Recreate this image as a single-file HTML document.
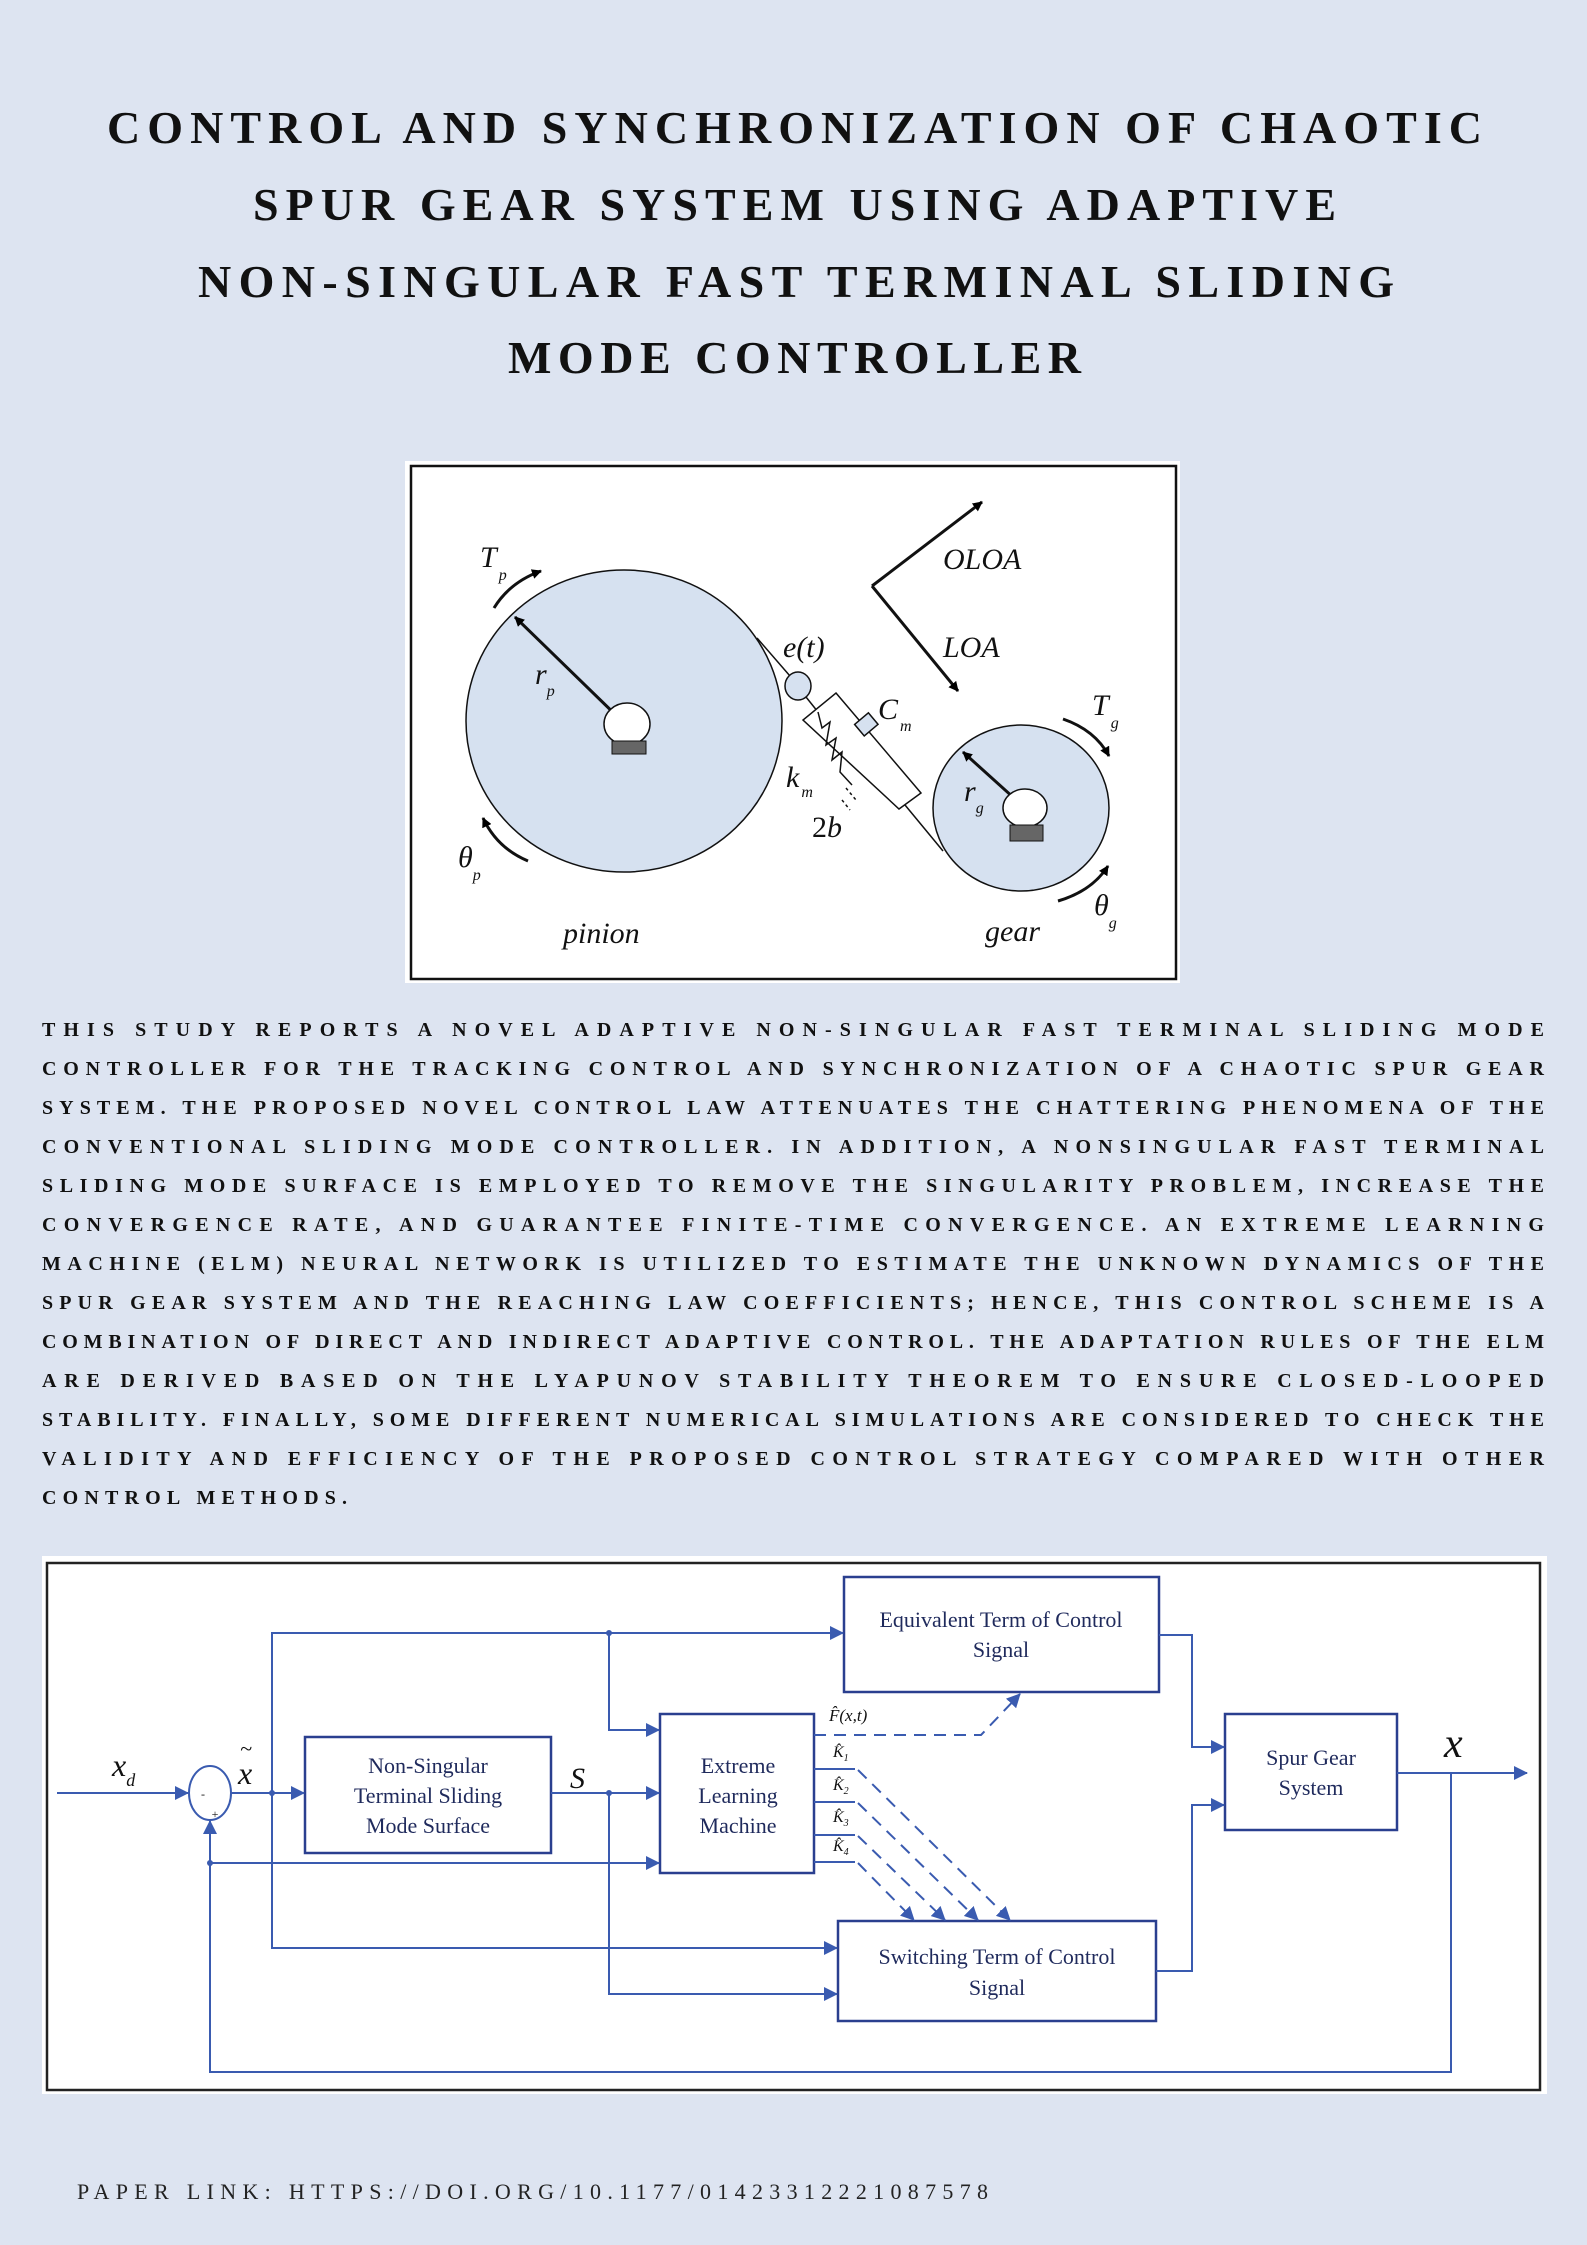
<!DOCTYPE html>
<html><head><meta charset="utf-8"><style>
html,body{margin:0;padding:0;background:#dde4f1;}
svg{display:block;}
</style></head><body>
<svg width="1587" height="2245" viewBox="0 0 1587 2245" xmlns="http://www.w3.org/2000/svg">
<defs>
<marker id="ab" markerWidth="10" markerHeight="10" refX="9" refY="5" orient="auto" markerUnits="userSpaceOnUse"><path d="M0,0 L10,5 L0,10 z" fill="#000"/></marker>
<marker id="bb" markerWidth="14" markerHeight="14" refX="13" refY="7" orient="auto" markerUnits="userSpaceOnUse"><path d="M0,0 L14,7 L0,14 z" fill="#3a5bb0"/></marker>
</defs>
<rect width="1587" height="2245" fill="#dde4f1"/>
<!-- Title -->
<g font-family="Liberation Serif, serif" font-weight="bold" font-size="46" fill="#111">
<text x="107" y="143" textLength="1375" lengthAdjust="spacing">CONTROL AND SYNCHRONIZATION OF CHAOTIC</text>
<text x="253" y="220" textLength="1083" lengthAdjust="spacing">SPUR GEAR SYSTEM USING ADAPTIVE</text>
<text x="198" y="297" textLength="1196" lengthAdjust="spacing">NON-SINGULAR FAST TERMINAL SLIDING</text>
<text x="508" y="373" textLength="573" lengthAdjust="spacing">MODE CONTROLLER</text>
</g>
<!-- Gear figure -->
<rect x="405" y="461" width="775" height="522" fill="#fff"/>
<rect x="411" y="466" width="765" height="513" fill="#fff" stroke="#111" stroke-width="2.5"/>
<g stroke="#111" stroke-width="1.5" fill="none">
<ellipse cx="624" cy="721" rx="158" ry="151" fill="#d6e1f0"/>
<ellipse cx="1021" cy="808" rx="88" ry="83" fill="#d6e1f0"/>
<line x1="757" y1="638" x2="790" y2="676"/>
<ellipse cx="798" cy="686" rx="13" ry="14" fill="#d6e1f0"/>
<line x1="806" y1="697" x2="818" y2="712"/>
<polygon points="836,693 921,793 899,809 803,720" fill="#fff"/>
<polyline points="818,712 822,728 830,722 826,745 836,738 832,760 842,752 840,772 852,785"/>
<rect x="857" y="717" width="18" height="15" fill="#d6e1f0" transform="rotate(-40 866 724)"/>
<line x1="905" y1="805" x2="943" y2="851"/>
<path d="M846,788 l10,12 M842,800 l8,10" stroke-dasharray="3,3"/>
<line x1="624" y1="723" x2="515" y2="617" stroke-width="3" marker-end="url(#ab)"/>
<line x1="1025" y1="808" x2="963" y2="752" stroke-width="3" marker-end="url(#ab)"/>
<line x1="872" y1="586" x2="982" y2="502" stroke-width="3" marker-end="url(#ab)"/>
<line x1="872" y1="586" x2="958" y2="691" stroke-width="3" marker-end="url(#ab)"/>
<path d="M494,608 Q510,582 541,571" stroke-width="3" marker-end="url(#ab)"/>
<path d="M1063,719 Q1095,730 1109,756" stroke-width="3" marker-end="url(#ab)"/>
<path d="M528,861 Q497,848 483,818" stroke-width="3" marker-end="url(#ab)"/>
<path d="M1058,901 Q1092,891 1108,866" stroke-width="3" marker-end="url(#ab)"/>
</g>
<ellipse cx="627" cy="724" rx="23" ry="21" fill="#fff" stroke="#111" stroke-width="1.5"/>
<rect x="612" y="741" width="34" height="13" fill="#666" stroke="#111"/>
<ellipse cx="1025" cy="808" rx="22" ry="19" fill="#fff" stroke="#111" stroke-width="1.5"/>
<rect x="1010" y="825" width="33" height="16" fill="#666" stroke="#111"/>
<g font-family="Liberation Serif, serif" font-style="italic" fill="#111" font-size="30">
<text x="783" y="657">e(t)</text>
<text x="878" y="719">C<tspan font-size="16" dx="2" dy="12">m</tspan></text>
<text x="786" y="787">k<tspan font-size="16" dx="2" dy="10">m</tspan></text>
<text x="812" y="837" font-style="normal">2<tspan font-style="italic">b</tspan></text>
<text x="535" y="684">r<tspan font-size="16" dy="12">p</tspan></text>
<text x="964" y="801">r<tspan font-size="16" dy="12">g</tspan></text>
<text x="480" y="567">T<tspan font-size="16" dx="2" dy="13">p</tspan></text>
<text x="1092" y="715">T<tspan font-size="16" dx="2" dy="13">g</tspan></text>
<text x="458" y="867">θ<tspan font-size="16" dy="13">p</tspan></text>
<text x="1094" y="915">θ<tspan font-size="16" dy="13">g</tspan></text>
<text x="943" y="569">OLOA</text>
<text x="943" y="657">LOA</text>
<text x="563" y="943">pinion</text>
<text x="985" y="941">gear</text>
</g>
<!-- Abstract -->
<g font-family="Liberation Serif, serif" font-weight="bold" font-size="20" fill="#111">
<text x="42" y="1036" textLength="1502" lengthAdjust="spacing">THIS STUDY REPORTS A NOVEL ADAPTIVE NON-SINGULAR FAST TERMINAL SLIDING MODE</text>
<text x="42" y="1075" textLength="1502" lengthAdjust="spacing">CONTROLLER FOR THE TRACKING CONTROL AND SYNCHRONIZATION OF A CHAOTIC SPUR GEAR</text>
<text x="42" y="1114" textLength="1502" lengthAdjust="spacing">SYSTEM. THE PROPOSED NOVEL CONTROL LAW ATTENUATES THE CHATTERING PHENOMENA OF THE</text>
<text x="42" y="1153" textLength="1502" lengthAdjust="spacing">CONVENTIONAL SLIDING MODE CONTROLLER. IN ADDITION, A NONSINGULAR FAST TERMINAL</text>
<text x="42" y="1192" textLength="1502" lengthAdjust="spacing">SLIDING MODE SURFACE IS EMPLOYED TO REMOVE THE SINGULARITY PROBLEM, INCREASE THE</text>
<text x="42" y="1231" textLength="1502" lengthAdjust="spacing">CONVERGENCE RATE, AND GUARANTEE FINITE-TIME CONVERGENCE. AN EXTREME LEARNING</text>
<text x="42" y="1270" textLength="1502" lengthAdjust="spacing">MACHINE (ELM) NEURAL NETWORK IS UTILIZED TO ESTIMATE THE UNKNOWN DYNAMICS OF THE</text>
<text x="42" y="1309" textLength="1502" lengthAdjust="spacing">SPUR GEAR SYSTEM AND THE REACHING LAW COEFFICIENTS; HENCE, THIS CONTROL SCHEME IS A</text>
<text x="42" y="1348" textLength="1502" lengthAdjust="spacing">COMBINATION OF DIRECT AND INDIRECT ADAPTIVE CONTROL. THE ADAPTATION RULES OF THE ELM</text>
<text x="42" y="1387" textLength="1502" lengthAdjust="spacing">ARE DERIVED BASED ON THE LYAPUNOV STABILITY THEOREM TO ENSURE CLOSED-LOOPED</text>
<text x="42" y="1426" textLength="1502" lengthAdjust="spacing">STABILITY. FINALLY, SOME DIFFERENT NUMERICAL SIMULATIONS ARE CONSIDERED TO CHECK THE</text>
<text x="42" y="1465" textLength="1502" lengthAdjust="spacing">VALIDITY AND EFFICIENCY OF THE PROPOSED CONTROL STRATEGY COMPARED WITH OTHER</text>
<text x="42" y="1504" textLength="305" lengthAdjust="spacing">CONTROL METHODS.</text>
</g>
<!-- Block diagram -->
<rect x="42" y="1556" width="1505" height="538" fill="#fff"/>
<rect x="47" y="1563" width="1493" height="527" fill="#fff" stroke="#222" stroke-width="2.5"/>
<g stroke="#3a5bb0" stroke-width="2" fill="none">
<rect x="844" y="1577" width="315" height="115" stroke="#2a3f8f" stroke-width="2.5"/>
<rect x="305" y="1737" width="246" height="116" stroke="#2a3f8f" stroke-width="2.5"/>
<rect x="660" y="1714" width="154" height="159" stroke="#2a3f8f" stroke-width="2.5"/>
<rect x="1225" y="1714" width="172" height="116" stroke="#2a3f8f" stroke-width="2.5"/>
<rect x="838" y="1921" width="318" height="100" stroke="#2a3f8f" stroke-width="2.5"/>
<ellipse cx="210" cy="1793" rx="21" ry="27"/>
<line x1="57" y1="1793" x2="188" y2="1793" marker-end="url(#bb)"/>
<line x1="231" y1="1793" x2="304" y2="1793" marker-end="url(#bb)"/>
<line x1="551" y1="1793" x2="659" y2="1793" marker-end="url(#bb)"/>
<polyline points="272,1793 272,1633 843,1633" marker-end="url(#bb)"/>
<polyline points="272,1793 272,1948 837,1948" marker-end="url(#bb)"/>
<polyline points="609,1633 609,1730 659,1730" marker-end="url(#bb)"/>
<polyline points="609,1793 609,1994 837,1994" marker-end="url(#bb)"/>
<line x1="210" y1="1863" x2="659" y2="1863" marker-end="url(#bb)"/>
<polyline points="1451,1773 1451,2072 210,2072 210,1821" marker-end="url(#bb)"/>
<line x1="1397" y1="1773" x2="1527" y2="1773" marker-end="url(#bb)"/>
<polyline points="1159,1635 1192,1635 1192,1747 1224,1747" marker-end="url(#bb)"/>
<polyline points="1156,1971 1192,1971 1192,1805 1224,1805" marker-end="url(#bb)"/>
<line x1="814" y1="1769" x2="855" y2="1769"/>
<line x1="814" y1="1802" x2="855" y2="1802"/>
<line x1="814" y1="1835" x2="855" y2="1835"/>
<line x1="814" y1="1862" x2="855" y2="1862"/>
<g stroke-dasharray="12,8">
<polyline points="814,1735 981,1735 1020,1694" marker-end="url(#bb)"/>
<line x1="858" y1="1770" x2="1010" y2="1920" marker-end="url(#bb)"/>
<line x1="858" y1="1803" x2="978" y2="1920" marker-end="url(#bb)"/>
<line x1="858" y1="1836" x2="945" y2="1920" marker-end="url(#bb)"/>
<line x1="858" y1="1863" x2="914" y2="1920" marker-end="url(#bb)"/>
</g>
</g>
<g fill="#3a5bb0"><circle cx="272" cy="1793" r="3"/><circle cx="609" cy="1633" r="3"/><circle cx="609" cy="1793" r="3"/><circle cx="210" cy="1863" r="3"/></g>
<g font-family="Liberation Serif, serif" fill="#1f2a5c" font-size="22" text-anchor="middle">
<text x="1001" y="1627">Equivalent Term of Control</text>
<text x="1001" y="1657">Signal</text>
<text x="428" y="1773">Non-Singular</text>
<text x="428" y="1803">Terminal Sliding</text>
<text x="428" y="1833">Mode Surface</text>
<text x="738" y="1773">Extreme</text>
<text x="738" y="1803">Learning</text>
<text x="738" y="1833">Machine</text>
<text x="1311" y="1765">Spur Gear</text>
<text x="1311" y="1795">System</text>
<text x="997" y="1964">Switching Term of Control</text>
<text x="997" y="1995">Signal</text>
<text x="203" y="1798" font-size="12" fill="#111">-</text>
<text x="215" y="1818" font-size="12" fill="#111">+</text>
</g>
<g font-family="Liberation Serif, serif" font-style="italic" fill="#111">
<text x="112" y="1776" font-size="32">x<tspan font-size="18" dy="10">d</tspan></text>
<text x="238" y="1784" font-size="32">x</text><text x="240" y="1756" font-size="22">~</text>
<text x="570" y="1788" font-size="30">S</text>
<text x="1444" y="1757" font-size="42">x</text>
<text x="829" y="1721" font-size="17">F̂(x,t)</text>
<text x="833" y="1757" font-size="16">K̂<tspan font-size="10" dy="4">1</tspan></text>
<text x="833" y="1790" font-size="16">K̂<tspan font-size="10" dy="4">2</tspan></text>
<text x="833" y="1822" font-size="16">K̂<tspan font-size="10" dy="4">3</tspan></text>
<text x="833" y="1851" font-size="16">K̂<tspan font-size="10" dy="4">4</tspan></text>
</g>
<text x="77" y="2199" font-family="Liberation Serif, serif" font-size="22" fill="#222" textLength="911" lengthAdjust="spacing">PAPER LINK: HTTPS://DOI.ORG/10.1177/01423312221087578</text>
</svg>
</body></html>
